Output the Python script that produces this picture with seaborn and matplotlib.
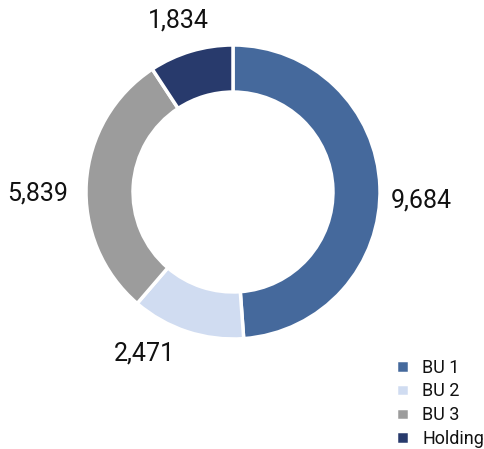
import matplotlib
matplotlib.use("Agg")
import matplotlib.pyplot as plt
import seaborn as sns
import numpy as np

categories = ["BU 1", "BU 2", "BU 3", "Holding"]
values = [9684, 2471, 5839, 1834]
colors = ["#45699c", "#d0dcf1", "#9c9c9c", "#283a6c"]

sns.set_theme(style="white")
plt.rcParams["font.family"] = ["Roboto", "DejaVu Sans"]

fig = plt.figure(figsize=(4.84, 4.49), dpi=100)
W, H = 484, 449
cx, cy, R = 233, 192, 147
ax = fig.add_axes([(cx - R) / W, (H - cy - R) / H, 2 * R / W, 2 * R / H])

wedges, _ = ax.pie(
    values, colors=colors, startangle=90, counterclock=False, radius=1.0,
    wedgeprops=dict(width=0.32, edgecolor="white", linewidth=2.5),
)
ax.set_xlim(-1, 1)
ax.set_ylim(-1, 1)
ax.set_aspect("equal")
ax.axis("off")

# value labels placed around the ring
label_pos = [(1.28, -0.06), (-0.60, -1.10), (-1.33, -0.01), (-0.37, 1.17)]
for v, (x, y) in zip(values, label_pos):
    ax.text(x, y, f"{v:,}", ha="center", va="center", fontsize=18,
            color="#111111", clip_on=False)

leg = fig.legend(
    wedges, categories, loc="lower right", bbox_to_anchor=(484 / W, 1 / H),
    borderaxespad=0, borderpad=0,
    frameon=False, handlelength=0.7, handleheight=0.7, handletextpad=0.75,
    labelspacing=0.32, prop=dict(family="Roboto", size=13),
)
for t in leg.get_texts():
    t.set_color("#111111")

fig.savefig("out.png", dpi=100)
